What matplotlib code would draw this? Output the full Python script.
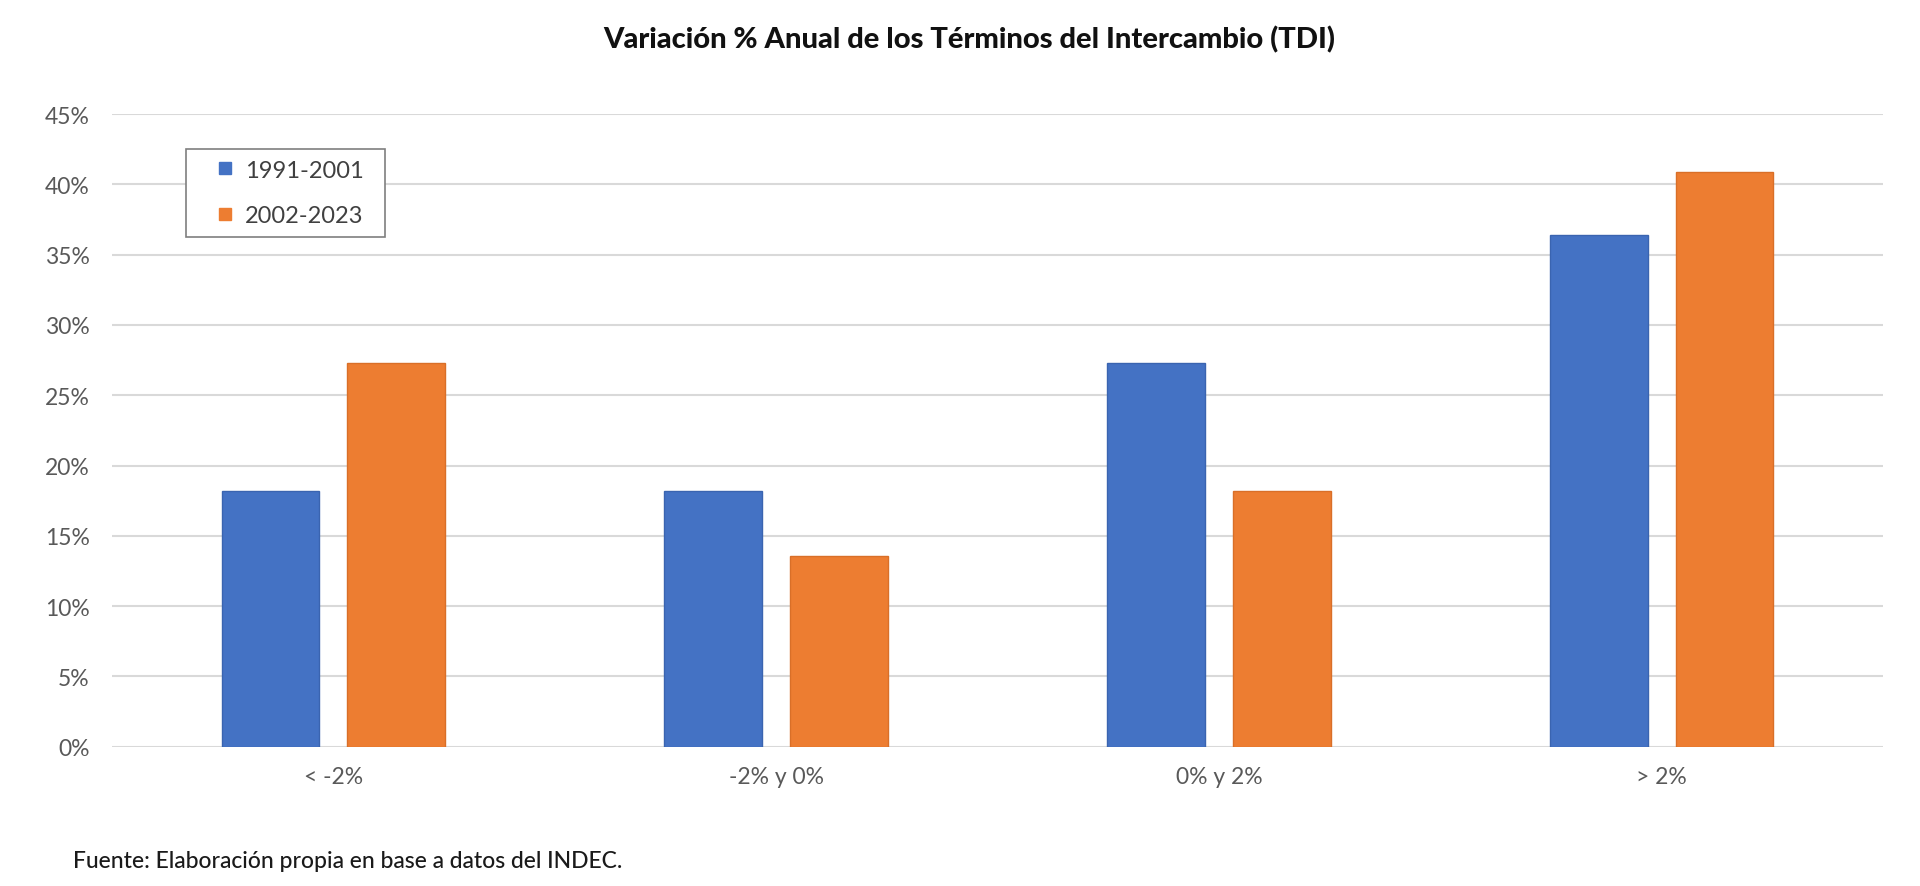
import numpy as np
import matplotlib
matplotlib.use("Agg")
import matplotlib.pyplot as plt
from matplotlib.lines import Line2D
from matplotlib.ticker import PercentFormatter, MultipleLocator

plt.rcParams['font.family'] = ['Lato', 'DejaVu Sans']

# data (share of years in each range)
categories = ['< -2%', '-2% y 0%', '0% y 2%', '> 2%']
periods = ['1991-2001', '2002-2023']
vals_1991_2001 = [0.182, 0.182, 0.273, 0.364]
vals_2002_2023 = [0.273, 0.136, 0.182, 0.409]

colors = ['#4472C4', '#ED7D31']
edges = ['#3a64b0', '#d96f28']

fig = plt.figure(figsize=(19.2, 8.87), dpi=100)
ax = fig.add_axes([0.0583, 0.157, 0.9224, 0.7133])

x = np.arange(len(categories))
w = 0.221
off = 0.142
ax.bar(x - off, vals_1991_2001, w, color=colors[0], edgecolor=edges[0], linewidth=1, zorder=3)
ax.bar(x + off, vals_2002_2023, w, color=colors[1], edgecolor=edges[1], linewidth=1, zorder=3)

ax.set_xlim(-0.5, len(categories) - 0.5)
ax.set_ylim(0, 0.45)
ax.yaxis.set_major_locator(MultipleLocator(0.05))
ax.yaxis.set_major_formatter(PercentFormatter(1.0, decimals=0))
ax.grid(axis='y', color='#d9d9d9', linewidth=1.5, zorder=0)
ax.set_axisbelow(True)
for s in ax.spines.values():
    s.set_visible(False)
ax.tick_params(axis='both', length=0, labelsize=16.5, labelcolor='#595959')
ax.tick_params(axis='y', pad=16)
ax.tick_params(axis='x', pad=14)
ax.set_xticks(x)
ax.set_xticklabels(categories)

# small square markers like the Excel legend
handles = [Line2D([], [], linestyle='none', marker='s', markersize=9,
                  markerfacecolor=c, markeredgecolor=c) for c in colors]
leg = ax.legend(handles, periods, loc='upper left',
                bbox_to_anchor=(0.0418, 0.80, 0.1124, 0.1447), mode='expand',
                borderaxespad=0, fancybox=False, edgecolor='#7f7f7f', fontsize=17,
                labelspacing=1.05, handlelength=2.4, handletextpad=-0.35,
                borderpad=0.45, framealpha=1)
for t in leg.get_texts():
    t.set_color('#404040')
leg.get_frame().set_linewidth(1.2)

fig.text(0.505, 0.955, 'Variación % Anual de los Términos del Intercambio (TDI)',
         ha='center', va='center', fontsize=21, fontweight='black', color='#111111')
fig.text(0.038, 0.029, 'Fuente: Elaboración propia en base a datos del INDEC.',
         ha='left', va='center', fontsize=16.5, fontweight='medium', color='#1a1a1a')

fig.savefig('out.png', dpi=100)
